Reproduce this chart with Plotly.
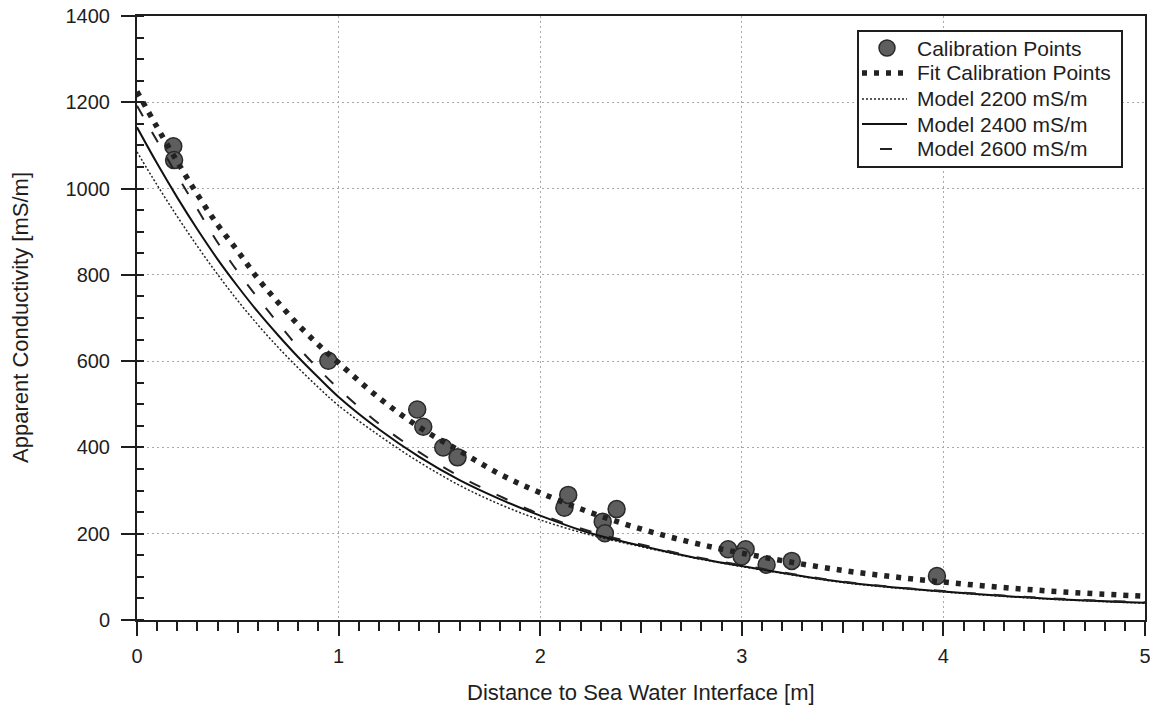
import plotly.graph_objects as go

# Calibration points
cal_x = [0.180, 0.184, 0.949, 1.390, 1.420, 1.519, 1.590, 2.120, 2.139, 2.310, 2.321,
         2.379, 2.932, 3.019, 2.999, 3.123, 3.248, 3.968]
cal_y = [1098, 1066, 601, 488, 448, 400, 377, 260, 290, 228, 201,
         257, 164, 164, 147, 128, 137, 102]

# Curves
curve_x = [0, 0.1, 0.2, 0.3, 0.4, 0.5, 0.6, 0.7, 0.8, 0.9, 1.0, 1.2, 1.4, 1.6, 1.8,
           2.0, 2.25, 2.5, 2.75, 3.0, 3.5, 4.0, 4.5, 5.0]
fit_y = [1225, 1142, 1062, 986, 916, 855, 791, 736, 684, 638, 596, 515, 447, 392, 338,
         295, 249, 211, 180, 155, 115, 88, 68, 55]
m2200_y = [1085, 1008, 935, 866, 801, 740, 684, 632, 584, 539, 497, 428, 366, 312, 268,
           232, 197, 170, 145, 124, 87, 65, 49, 39]
m2400_y = [1142, 1058, 979, 905, 836, 773, 714, 660, 609, 562, 517, 442, 378, 324, 280,
           242, 201, 172, 146, 125, 88, 66, 50, 40]
m2600_y = [1192, 1110, 1030, 952, 875, 807, 746, 688, 632, 582, 536, 455, 389, 333, 287,
           245, 205, 175, 148, 127, 89, 67, 51, 41]

names = ["Calibration Points", "Fit Calibration Points", "Model 2200 mS/m",
         "Model 2400 mS/m", "Model 2600 mS/m"]
x_title = "Distance to Sea Water Interface [m]"
y_title = "Apparent Conductivity [mS/m]"

FONT = "Liberation Sans, Arial, sans-serif"
INK = "#1e1e1e"
W, H = 1150, 715
ML, MR, MT, MB = 137, 5, 16, 95
PW, PH = W - ML - MR, H - MT - MB


def px(xp):
    return (xp - ML) / PW


def py(yp):
    return (H - MB - yp) / PH


MARKER = dict(color="#5e5e5e", line=dict(color="#2a2a2a", width=1.5))
FIT_LINE = dict(color="#222222", width=5.5, dash="5px,7px")
M2200_LINE = dict(color="#222222", width=1.5, dash="2px,2px")
M2400_LINE = dict(color="#111111", width=2)
M2600_LINE = dict(color="#222222", width=2, dash="12px,18px")

fig = go.Figure()
fig.add_trace(go.Scatter(x=cal_x, y=cal_y, mode="markers", name=names[0],
                         marker=dict(size=17, **MARKER)))
fig.add_trace(go.Scatter(x=curve_x, y=fit_y, mode="lines", name=names[1],
                         line=dict(shape="spline", smoothing=1.0, **FIT_LINE)))
fig.add_trace(go.Scatter(x=curve_x, y=m2200_y, mode="lines", name=names[2],
                         line=dict(shape="spline", smoothing=1.0, **M2200_LINE)))
fig.add_trace(go.Scatter(x=curve_x, y=m2400_y, mode="lines", name=names[3],
                         line=dict(shape="spline", smoothing=1.0, **M2400_LINE)))
fig.add_trace(go.Scatter(x=curve_x, y=m2600_y, mode="lines", name=names[4],
                         line=dict(shape="spline", smoothing=1.0, **M2600_LINE)))

# --- hand-drawn legend ---
shapes = [dict(type="rect", xref="paper", yref="paper",
               x0=px(858), x1=px(1122), y0=py(167), y1=py(31),
               fillcolor="white", line=dict(color=INK, width=2), layer="above")]
row_y = [48, 73, 99, 124, 149]
r = 8
shapes.append(dict(type="circle", xref="paper", yref="paper",
                   x0=px(887 - r), x1=px(887 + r), y0=py(row_y[0] + r), y1=py(row_y[0] - r),
                   fillcolor=MARKER["color"], line=MARKER["line"], layer="above"))
for i, ln in zip(range(1, 5), [FIT_LINE, M2200_LINE, M2400_LINE, M2600_LINE]):
    x0 = 862 if i != 4 else 880
    shapes.append(dict(type="line", xref="paper", yref="paper",
                       x0=px(x0), x1=px(907), y0=py(row_y[i]), y1=py(row_y[i]),
                       line=ln, layer="above"))
annotations = []
for name, yy in zip(names, row_y):
    annotations.append(dict(text=name, xref="paper", yref="paper", x=px(915), y=py(yy),
                            xanchor="left", yanchor="middle", showarrow=False,
                            font=dict(size=21, family=FONT, color=INK)))
annotations.append(dict(text=x_title, xref="paper", yref="paper", x=px(641), y=py(692),
                        xanchor="center", yanchor="middle", showarrow=False,
                        font=dict(size=22, family=FONT, color=INK)))
annotations.append(dict(text=y_title, xref="paper", yref="paper", x=px(20), y=py(318),
                        xanchor="center", yanchor="middle", showarrow=False, textangle=-90,
                        font=dict(size=22, family=FONT, color=INK)))

fig.update_layout(
    width=W, height=H,
    margin=dict(l=ML, r=MR, t=MT, b=MB),
    paper_bgcolor="white", plot_bgcolor="white",
    font=dict(family=FONT, size=20, color=INK),
    showlegend=False,
    shapes=shapes, annotations=annotations,
    xaxis=dict(range=[0, 5], dtick=1, tick0=0, automargin=False,
               ticklabeloverflow="allow", ticklabelstandoff=3,
               showline=True, linecolor=INK, linewidth=2, mirror=True,
               ticks="outside", ticklen=14, tickwidth=2, tickcolor=INK,
               showgrid=True, gridcolor="#a8a8a8", griddash="2px,3px", gridwidth=1,
               zeroline=False,
               minor=dict(dtick=0.1, ticks="outside", ticklen=9, tickwidth=1.5,
                          tickcolor=INK, showgrid=False),
               tickfont=dict(size=20, family=FONT, color=INK)),
    yaxis=dict(range=[0, 1400], dtick=200, tick0=0, automargin=False,
               ticklabeloverflow="allow", ticklabelstandoff=7,
               showline=True, linecolor=INK, linewidth=2, mirror=True,
               ticks="outside", ticklen=14, tickwidth=2, tickcolor=INK,
               showgrid=True, gridcolor="#a8a8a8", griddash="2px,3px", gridwidth=1,
               zeroline=False,
               minor=dict(dtick=50, ticks="inside", ticklen=7, tickwidth=1.5,
                          tickcolor=INK, showgrid=False),
               tickfont=dict(size=20, family=FONT, color=INK)),
    # overlay axes for extra tick marks (major crossing y, half-unit x ticks)
    xaxis2=dict(overlaying="x", range=[0, 5], dtick=0.5, tick0=0, side="bottom",
                ticks="outside", ticklen=12, tickwidth=1.5, tickcolor=INK,
                showticklabels=False, showgrid=False, zeroline=False,
                showline=False, anchor="y", automargin=False),
    yaxis2=dict(overlaying="y", range=[0, 1400], dtick=200, tick0=0, side="left",
                ticks="inside", ticklen=7, tickwidth=2, tickcolor=INK,
                showticklabels=False, showgrid=False, zeroline=False,
                showline=False, anchor="x", automargin=False),
)

# invisible trace to activate overlay axes
fig.add_trace(go.Scatter(x=[0], y=[0], xaxis="x2", yaxis="y2", mode="markers",
                         marker=dict(opacity=0), showlegend=False, hoverinfo="skip"))

fig.write_html("out.html", config={"displayModeBar": False},
               post_script="document.body.style.margin='0';"
                           "document.body.style.overflow='hidden';")
